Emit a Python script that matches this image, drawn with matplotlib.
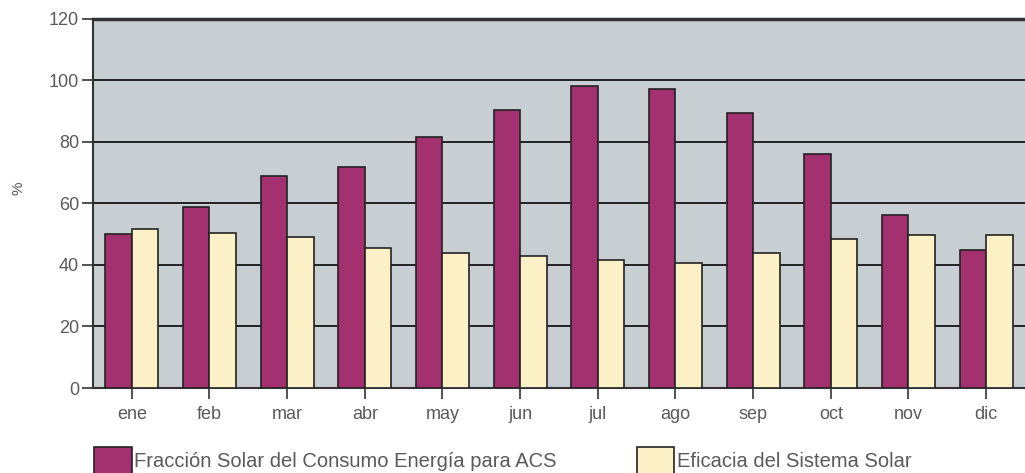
import matplotlib.pyplot as plt
from matplotlib.patches import Patch
import numpy as np

# datos
meses = ["ene", "feb", "mar", "abr", "may", "jun", "jul", "ago", "sep", "oct", "nov", "dic"]
fraccion_solar = [50, 59, 69, 72, 81.5, 90.5, 98.3, 97.2, 89.3, 76, 56.3, 45]
eficacia = [51.7, 50.4, 49, 45.5, 44, 43, 41.5, 40.8, 44, 48.5, 49.6, 49.6]

serie1 = "Fracción Solar del Consumo Energía para ACS"
serie2 = "Eficacia del Sistema Solar"

color1 = "#a3306f"
color2 = "#fbf0c6"
fondo = "#c7cfd3"
gris = "#5a5a5a"

plt.rcParams['font.family'] = ['Liberation Sans', 'DejaVu Sans']

fig = plt.figure(figsize=(10.25, 4.73), dpi=100)
ax = fig.add_axes([0.0907, 0.1797, 0.9093, 0.7803])
ax.set_facecolor(fondo)

x = np.arange(len(meses))
w = 0.34
ax.bar(x - w / 2, fraccion_solar, w, color=color1, edgecolor="#222222", linewidth=1.2, zorder=3)
ax.bar(x + w / 2, eficacia, w, color=color2, edgecolor="#222222", linewidth=1.2, zorder=3)

ax.set_xlim(-0.5, len(meses) - 0.5)
ax.set_ylim(0, 120)
ax.set_yticks(range(0, 121, 20))
ax.set_xticks(x)
ax.set_xticklabels(meses)
ax.yaxis.grid(True, color="#222222", linewidth=1.4, zorder=0)
ax.set_axisbelow(True)

for s in ["left", "bottom", "top"]:
    ax.spines[s].set_color("#333333")
    ax.spines[s].set_linewidth(1.5)
ax.spines["top"].set_linewidth(2.5)
ax.spines["right"].set_visible(False)

ax.tick_params(axis="both", colors="#333333", labelcolor=gris, labelsize=13, length=8, width=1.2)
ax.tick_params(axis="x", pad=5)
ax.tick_params(axis="y", pad=2)
ax.set_ylabel("%", color=gris, fontsize=11)
ax.yaxis.set_label_coords(-0.072, 0.54)

handles = [Patch(facecolor=color1, edgecolor="#222222", linewidth=1.2, label=serie1),
           Patch(facecolor=color2, edgecolor="#222222", linewidth=1.2, label=serie2)]
leg = fig.legend(handles=handles, loc="lower left", bbox_to_anchor=(0.092, -0.004), ncol=2,
                 frameon=False, fontsize=14.5, handlelength=1.85, handleheight=1.75,
                 handletextpad=0.12, columnspacing=4.0, borderaxespad=0, borderpad=0)
for t in leg.get_texts():
    t.set_color(gris)

fig.savefig("out.png", dpi=100)
